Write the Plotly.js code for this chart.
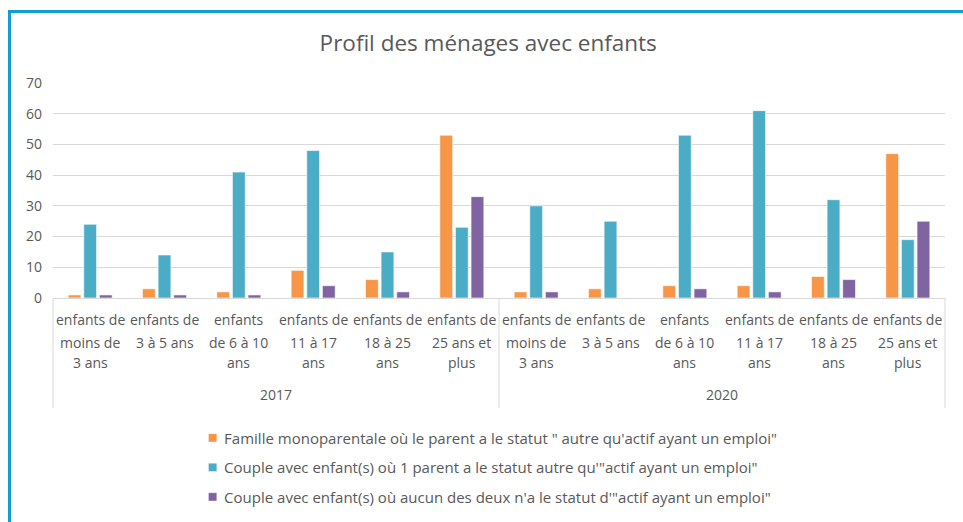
<!DOCTYPE html>
<html>
<head>
<meta charset="utf-8">
<script src="https://cdn.plot.ly/plotly-3.0.1.min.js"></script>
<style>
html,body{margin:0;padding:0;background:#fff;}
#wrap{position:relative;width:963px;height:522px;overflow:hidden;}
#chart{position:absolute;left:0;top:0;width:963px;height:522px;}
#frame{position:absolute;left:8px;top:10px;width:1000px;height:600px;border-left:3px solid #139DD6;border-top:3px solid #139DD6;pointer-events:none;}
#chart .legend .legendpoints path{transform:translate(28.5px,0px) scale(0.7);}
</style>
</head>
<body>
<div id="wrap"><div id="chart"></div><div id="frame"></div></div>
<script>
// ---- data ----
const years = ["2017", "2020"];
const ageGroups = [
  "enfants de\nmoins de\n3 ans",
  "enfants de\n3 à 5 ans",
  "enfants\nde 6 à 10\nans",
  "enfants de\n11 à 17\nans",
  "enfants de\n18 à 25\nans",
  "enfants de\n25 ans et\nplus"
];
const seriesNames = [
  "Famille monoparentale où le parent a le statut \" autre qu'actif ayant un emploi\"",
  "Couple avec enfant(s) où 1 parent a le statut autre qu'\"actif ayant un emploi\"",
  "Couple avec enfant(s) où aucun des deux n'a le statut d'\"actif ayant un emploi\""
];
const mono2017   = [1, 3, 2, 9, 6, 53];
const mono2020   = [2, 3, 4, 4, 7, 47];
const couple1_2017 = [24, 14, 41, 48, 15, 23];
const couple1_2020 = [30, 25, 53, 61, 32, 19];
const couple0_2017 = [1, 1, 1, 4, 2, 33];
const couple0_2020 = [2, 0, 3, 2, 6, 25];
const yTicks = [0, 10, 20, 30, 40, 50, 60, 70];

// ---- build ----
const colors = ["#F79646", "#4BACC6", "#8064A2"];
const xKeys = [];
years.forEach((y, yi) => ageGroups.forEach((g, gi) => xKeys.push(y + "_" + gi)));
const seriesVals = [
  mono2017.concat(mono2020),
  couple1_2017.concat(couple1_2020),
  couple0_2017.concat(couple0_2020)
];
const FONT = "'Open Sans', sans-serif";
const GREY = "#595959";

const traces = seriesVals.map((vals, i) => ({
  type: "bar",
  name: seriesNames[i],
  x: xKeys,
  y: vals,
  marker: {color: colors[i], line: {color: "#ffffff", width: 0.6}},
  legendgroup: "g" + i,
  hoverinfo: "y+name"
}));

const annotations = [];
const lineY = [-0.102, -0.205, -0.302];
years.forEach((y, yi) => {
  ageGroups.forEach((g, gi) => {
    g.split("\n").forEach((ln, li) => {
      annotations.push({
        xref: "x", yref: "paper", x: y + "_" + gi, y: lineY[li],
        text: ln, showarrow: false, xanchor: "center", yanchor: "middle",
        font: {family: FONT, size: 14, color: GREY}
      });
    });
  });
  annotations.push({
    xref: "paper", yref: "paper", x: 0.25 + 0.5 * yi, y: -0.447,
    text: y, showarrow: false, xanchor: "center", yanchor: "middle",
    font: {family: FONT, size: 14, color: GREY}
  });
});

const shapes = [0, 0.5, 1].map(xp => ({
  type: "line", xref: "paper", yref: "paper", x0: xp, x1: xp, y0: 0, y1: -0.512,
  line: {color: "#D9D9D9", width: 1}
}));

const layout = {
  width: 963, height: 522,
  margin: {l: 53, r: 18, t: 83, b: 224, autoexpand: false},
  paper_bgcolor: "#ffffff", plot_bgcolor: "#ffffff",
  font: {family: FONT, color: GREY},
  title: {
    text: "Profil des ménages avec enfants",
    font: {family: FONT, size: 22.5, color: GREY},
    xref: "container", x: 0.507, xanchor: "center",
    yref: "container", y: 1 - 43 / 522, yanchor: "middle"
  },
  barmode: "group",
  bargap: 0.37,
  bargroupgap: 0.18,
  xaxis: {
    type: "category", showticklabels: false, ticks: "",
    showgrid: false, zeroline: false,
    showline: true, linecolor: "#D9D9D9", linewidth: 1,
    fixedrange: true
  },
  yaxis: {
    range: [0, 70], tickvals: yTicks, ticks: "",
    showgrid: true, gridcolor: "#D9D9D9", gridwidth: 1,
    zeroline: false, showline: false,
    ticklabelstandoff: 10,
    tickfont: {family: FONT, size: 14, color: GREY},
    fixedrange: true
  },
  legend: {
    orientation: "v", x: 0.147, xanchor: "left", y: -0.575, yanchor: "top",
    font: {family: FONT, size: 15, color: GREY},
    tracegroupgap: 7, itemwidth: 30,
    bgcolor: "rgba(0,0,0,0)"
  },
  showlegend: true,
  annotations: annotations,
  shapes: shapes
};

Plotly.newPlot("chart", traces, layout, {displayModeBar: false, staticPlot: true});
</script>
</body>
</html>
